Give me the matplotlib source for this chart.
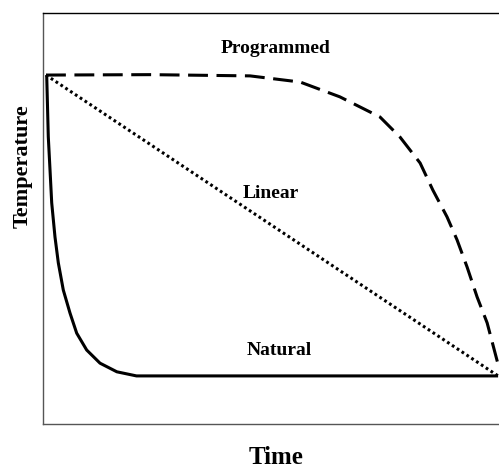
import matplotlib
matplotlib.use("Agg")
import matplotlib.pyplot as plt

# Data (time in % of axis, temperature in % of axis)
natural_t = [0.81, 1.16, 1.54, 1.91, 2.63, 3.36, 4.45, 5.92, 7.39, 9.58, 12.5, 16.2, 20.5, 99.8]
natural_T = [84.9, 69.9, 61.8, 53.8, 45.5, 39.2, 32.6, 27.0, 22.1, 18.0, 14.8, 12.7, 11.7, 11.7]

linear_t = [0.66, 99.8]
linear_T = [84.9, 11.7]

programmed_t = [0.66, 23.5, 45.4, 56.4, 65.1, 73.9, 78.3, 82.7, 85.5, 88.6, 90.8,
                93.0, 95.2, 97.4, 99.8]
programmed_T = [84.9, 85.0, 84.7, 83.2, 79.6, 74.7, 69.8, 63.5, 56.9, 50.4, 44.8,
                38.2, 30.9, 24.6, 14.5]

labels = ["Programmed", "Linear", "Natural"]
label_pos = [(50.9, 91.3), (50.0, 56.2), (51.8, 17.8)]

plt.rcParams['font.family'] = ['Liberation Serif', 'DejaVu Serif']

fig = plt.figure(figsize=(4.99, 4.68), dpi=100)
ax = fig.add_axes([43/499, 1-424/468, 1-43/499, (424-13)/468])

ax.plot(natural_t, natural_T, color='black', lw=2.2, solid_capstyle='butt',
        solid_joinstyle='round')
ax.plot(linear_t, linear_T, color='black', lw=2.2, linestyle=(0, (0.9, 1.0)))
ax.plot(programmed_t, programmed_T, color='black', lw=2.2, linestyle=(0, (6.5, 2.8)))

for lab, (x, y) in zip(labels, label_pos):
    ax.text(x, y, lab, ha='center', va='center', fontsize=14, fontweight='bold')

ax.set_xlim(0, 100)
ax.set_ylim(0, 100)
ax.set_xticks([])
ax.set_yticks([])
ax.spines['right'].set_visible(False)
ax.spines['top'].set_color('black')
ax.spines['left'].set_color('#555555')
ax.spines['bottom'].set_color('#555555')
for s in ax.spines.values():
    s.set_linewidth(1.0)

fig.text(23/499, 1-166/468, "Temperature", rotation=90, ha='center', va='center',
         fontsize=16, fontweight='bold')
fig.text(276/499, 1-457/468, "Time", ha='center', va='center',
         fontsize=18, fontweight='bold')

fig.savefig("out.png", dpi=100)
